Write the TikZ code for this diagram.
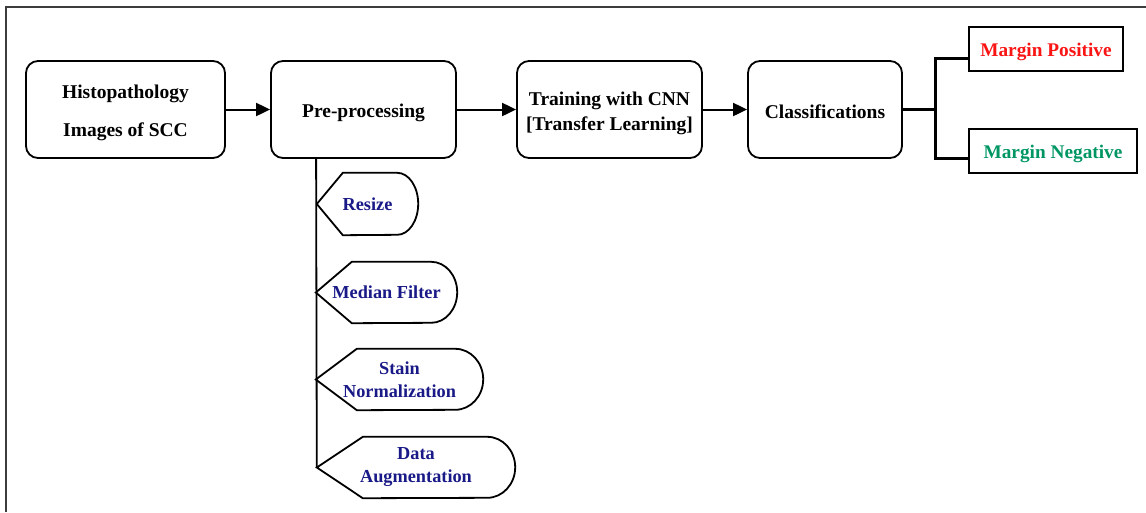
\documentclass[tikz,border=0pt]{standalone}
\usepackage{fontspec}
\setmainfont{Liberation Serif}
\usetikzlibrary{arrows.meta}
\definecolor{navy}{RGB}{25,25,135}
\definecolor{posred}{RGB}{250,20,20}
\definecolor{neggreen}{RGB}{0,150,100}
\definecolor{framegray}{RGB}{60,60,60}
\begin{document}
\begin{tikzpicture}[x=1pt,y=-1pt,
  mainbox/.style={draw,line width=1.8pt,rounded corners=12pt,align=center,
    font=\bfseries\fontsize{19.5}{25}\selectfont,inner sep=0pt},
  outbox/.style={draw,line width=1.8pt,minimum height=44pt,inner sep=0pt,
    font=\bfseries\fontsize{19.3}{23}\selectfont,text height=20pt,text depth=4.2pt},
  subitem/.style={align=center,inner sep=0pt,text=navy,
    font=\bfseries\fontsize{18.3}{23}\selectfont},
  flow/.style={line width=2pt,-{Triangle[length=14pt,width=13pt]}},
  shapeline/.style={line width=1.8pt},
  bracket/.style={line width=3pt}]
\useasboundingbox (0,0) rectangle (1146,512);
\draw[framegray,line width=2.5pt] (6,512) -- (6,7) -- (1146,7);

\node[mainbox,minimum width=199pt,minimum height=97pt,text height=57.5pt,text depth=4.2pt,
  font=\bfseries\fontsize{19.5}{38}\selectfont] (b1) at (125.5,109.5) {Histopathology\\Images of SCC};
\node[mainbox,minimum width=185pt,minimum height=97pt,text height=19.5pt,text depth=4.5pt] (b2) at (363.5,109.5) {Pre-processing};
\node[mainbox,minimum width=185pt,minimum height=97pt,text height=44.5pt,text depth=3.5pt] (b3) at (609.5,109.5) {Training with CNN\\{[}Transfer Learning{]}};
\node[mainbox,minimum width=154pt,minimum height=97pt,text height=18.5pt,text depth=0pt] (b4) at (825,109.5) {Classifications};

\node[outbox,minimum width=154pt,text=posred] (pos) at (1046,49) {Margin Positive};
\node[outbox,minimum width=168pt,text=neggreen] (neg) at (1053,151) {Margin Negative};

\draw[flow] (b1) -- (b2);
\draw[flow] (b2) -- (b3);
\draw[flow] (b3) -- (b4);

\coordinate (j) at (935,109.5);
\draw[bracket] (b4.east) -- (j);
\draw[bracket] ([yshift=-9pt]pos.west) -| (j) |- ([yshift=-7pt]neg.west);

\node[subitem,minimum width=101pt,minimum height=62pt] (s1) at (367.5,204) {Resize};
\node[subitem,minimum width=141pt,minimum height=61pt] (s2) at (386.5,292.5) {Median Filter};
\node[subitem,minimum width=167pt,minimum height=61pt] (s3) at (399.5,379.5) {Stain\\Normalization};
\node[subitem,minimum width=198pt,minimum height=61pt] (s4) at (416,467.5) {Data\\Augmentation};

\draw[shapeline] (s1.west) -- ([xshift=26pt]s1.north west) -- ([xshift=-21pt]s1.north east)
  arc[start angle=90,end angle=-90,x radius=21pt,y radius=31pt] -- ([xshift=26pt]s1.south west) -- cycle;
\draw[shapeline] (s2.west) -- ([xshift=36pt]s2.north west) -- ([xshift=-26pt]s2.north east)
  arc[start angle=90,end angle=-90,x radius=26pt,y radius=30.5pt] -- ([xshift=36pt]s2.south west) -- cycle;
\draw[shapeline] (s3.west) -- ([xshift=41pt]s3.north west) -- ([xshift=-28pt]s3.north east)
  arc[start angle=90,end angle=-90,x radius=28pt,y radius=30.5pt] -- ([xshift=41pt]s3.south west) -- cycle;
\draw[shapeline] (s4.west) -- ([xshift=46pt]s4.north west) -- ([xshift=-28pt]s4.north east)
  arc[start angle=90,end angle=-90,x radius=28pt,y radius=30.5pt] -- ([xshift=46pt]s4.south west) -- cycle;

\draw[shapeline] ([xshift=46pt]b2.south west) -- (s4.west);
\end{tikzpicture}
\end{document}
